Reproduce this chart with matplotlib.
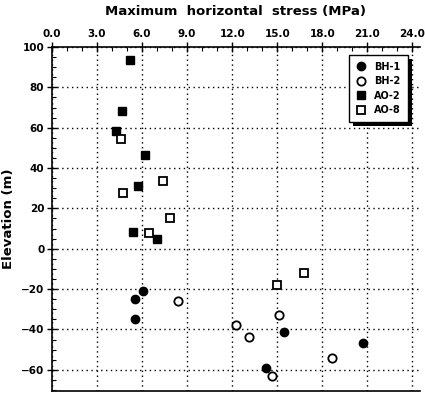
import matplotlib
matplotlib.use("Agg")
import matplotlib.pyplot as plt
from matplotlib.ticker import MultipleLocator
import matplotlib.patheffects as pe

# borehole data: stress (MPa), elevation (m)
bh1_stress = [6.04, 5.53, 5.53, 15.47, 20.71, 14.27]
bh1_elev = [-21.0, -25.0, -34.7, -41.4, -46.6, -59.0]

bh2_stress = [8.36, 15.09, 12.27, 13.13, 18.67, 14.62]
bh2_elev = [-25.9, -32.8, -37.7, -43.8, -54.1, -63.0]

ao2_stress = [5.2, 4.69, 4.27, 6.2, 5.75, 5.38, 6.98]
ao2_elev = [93.5, 68.5, 58.6, 46.6, 31.0, 8.5, 5.0]

ao8_stress = [4.58, 7.42, 4.76, 7.87, 6.44, 16.76, 14.98]
ao8_elev = [54.6, 33.8, 27.7, 15.3, 7.8, -11.8, -17.9]

xticks = [0, 3, 6, 9, 12, 15, 18, 21, 24]
yticks = [-60, -40, -20, 0, 20, 40, 60, 80, 100]

plt.rcParams['font.family'] = 'DejaVu Sans'
plt.rcParams['font.weight'] = 'bold'

fig = plt.figure(figsize=(4.25, 3.93), dpi=100)
ax = fig.add_axes([52 / 425, 2 / 393, 368 / 425, 344 / 393])

ax.plot(bh1_stress, bh1_elev, 'o', color='black', ms=6, label='BH-1')
ax.plot(bh2_stress, bh2_elev, 'o', mfc='white', mec='black', mew=1.3, ms=6, label='BH-2')
ax.plot(ao2_stress, ao2_elev, 's', color='black', ms=5.2, label='AO-2')
ax.plot(ao8_stress, ao8_elev, 's', mfc='white', mec='black', mew=1.3, ms=5.2, label='AO-8')

ax.set_xlim(0, 24.5)
ax.set_ylim(-70.5, 100)
ax.xaxis.tick_top()
ax.xaxis.set_label_position('top')
ax.set_xticks(xticks)
ax.set_xticklabels(['%.1f' % v for v in xticks])
ax.set_yticks(yticks)
ax.xaxis.set_minor_locator(MultipleLocator(1))
ax.yaxis.set_minor_locator(MultipleLocator(5))
ax.tick_params(axis='both', which='major', direction='inout', length=7, width=1,
               labelsize=7.5, pad=2)
ax.tick_params(axis='both', which='minor', direction='in', length=3, width=0.8)
ax.tick_params(axis='x', which='both', top=True, bottom=False)

ax.grid(True, which='major', color='black', linestyle=(0, (1, 2.5)), linewidth=1)
ax.spines['right'].set_visible(False)
for side in ('top', 'left', 'bottom'):
    ax.spines[side].set_linewidth(1.2)

ax.set_xlabel('Maximum  horizontal  stress (MPa)', fontsize=9.5, fontweight='bold', labelpad=10)
ax.set_ylabel('Elevation (m)', fontsize=9.5, fontweight='bold', labelpad=4)

leg = ax.legend(loc='upper right', bbox_to_anchor=(0.975, 0.985), fontsize=7,
                frameon=True, fancybox=False, edgecolor='black', framealpha=1,
                handlelength=1.0, handletextpad=0.9, borderpad=0.7,
                labelspacing=0.45, borderaxespad=0.3)
leg.get_frame().set_linewidth(1.0)
leg.get_frame().set_path_effects([pe.SimplePatchShadow(offset=(3, -3), shadow_rgbFace='black', alpha=1),
                                  pe.Normal()])

fig.savefig('out.png', dpi=100)
